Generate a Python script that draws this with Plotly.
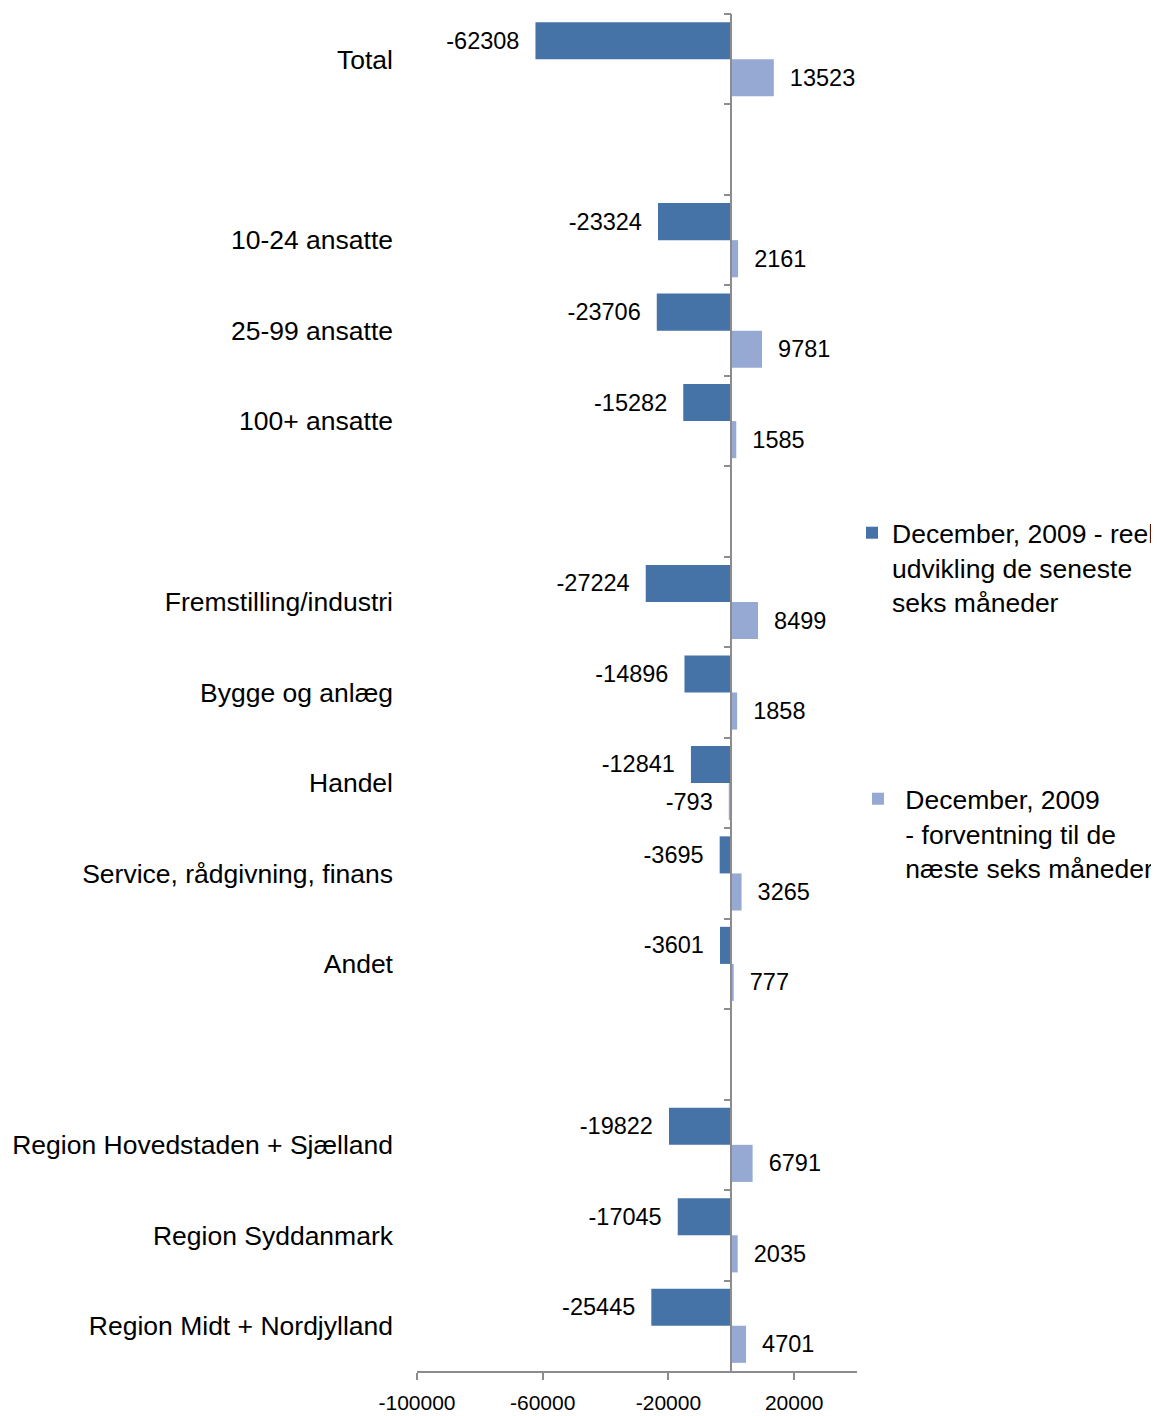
import plotly.graph_objects as go

categories = [
    "Total", " ", "10-24 ansatte", "25-99 ansatte", "100+ ansatte", "  ",
    "Fremstilling/industri", "Bygge og anlæg", "Handel",
    "Service, rådgivning, finans", "Andet", "   ",
    "Region Hovedstaden + Sjælland", "Region Syddanmark", "Region Midt + Nordjylland",
]
actual_values = [-62308, None, -23324, -23706, -15282, None,
                 -27224, -14896, -12841, -3695, -3601, None,
                 -19822, -17045, -25445]
expected_values = [13523, None, 2161, 9781, 1585, None,
                   8499, 1858, -793, 3265, 777, None,
                   6791, 2035, 4701]
series_names = [
    "December, 2009 - reel<br>udvikling de seneste<br>seks måneder",
    "\u00a0December, 2009<br>\u00a0- forventning til de<br>\u00a0næste seks måneder",
]
x_tickvals = [-100000, -60000, -20000, 20000]
x_range = [-100000, 40000]

DARK = "#4572A7"
LIGHT = "#95A9D3"
AXIS = "#8C8C8C"
FONT = "Liberation Sans, Arial, sans-serif"

# the page body has an 8px margin, so the figure is drawn 8px smaller
W, H = 1151, 1408
ML, MR, MT, MB = 409, 302, 6, 45


def labels(vals):
    out = []
    for v in vals:
        if v is None:
            out.append("")
        elif v < 0:
            out.append(f"{v}\u00a0\u00a0")
        else:
            out.append(f"\u00a0\u00a0{v}")
    return out


fig = go.Figure()
fig.add_trace(go.Bar(
    y=categories, x=actual_values, orientation="h", name=series_names[0],
    marker=dict(color=DARK, line=dict(width=0)),
    text=labels(actual_values), textposition="outside", constraintext="none",
    textfont=dict(family=FONT, size=23.5, color="black"),
    cliponaxis=False, legend="legend",
))
fig.add_trace(go.Bar(
    y=categories, x=expected_values, orientation="h", name=series_names[1],
    marker=dict(color=LIGHT, line=dict(width=0)),
    text=labels(expected_values), textposition="outside", constraintext="none",
    textfont=dict(family=FONT, size=23.5, color="black"),
    cliponaxis=False, legend="legend2",
))
# invisible helper trace that carries the category axis drawn at x = 0
fig.add_trace(go.Scatter(
    y=categories, x=[0] * len(categories), yaxis="y2", mode="markers",
    marker=dict(opacity=0, size=1), showlegend=False, hoverinfo="skip",
))

zero_pos = (0 - x_range[0]) / (x_range[1] - x_range[0])
cat_range = [len(categories) - 0.5, -0.5]

fig.update_layout(
    width=W, height=H,
    margin=dict(l=ML, r=MR, t=MT, b=MB, autoexpand=False),
    paper_bgcolor="white", plot_bgcolor="white",
    font=dict(family=FONT, color="black"),
    barmode="group", bargap=0.18, bargroupgap=0,
    xaxis=dict(
        range=x_range, tickmode="array", tickvals=x_tickvals,
        ticktext=[str(v) for v in x_tickvals],
        showgrid=False, zeroline=False, showline=True,
        linecolor=AXIS, linewidth=1.5, ticks="outside", ticklen=7,
        tickcolor=AXIS, tickwidth=1.5, tickfont=dict(size=21, color="black"),
        ticklabelstandoff=5,
    ),
    yaxis=dict(
        type="category", categoryorder="array", categoryarray=categories,
        range=cat_range, showgrid=False, zeroline=False, showline=False,
        ticks="", tickfont=dict(size=26.5, color="black"),
        ticklabelstandoff=23,
    ),
    yaxis2=dict(
        type="category", categoryorder="array", categoryarray=categories,
        range=cat_range, overlaying="y", anchor="free", position=zero_pos,
        side="left", showgrid=False, zeroline=False, showline=True,
        linecolor=AXIS, linewidth=1.5, ticks="outside", ticklen=7,
        tickcolor=AXIS, tickwidth=1.5, tickson="boundaries",
        showticklabels=False,
    ),
    legend=dict(
        xref="container", yref="container", x=844 / W, y=1 - 501 / H,
        xanchor="left", yanchor="top", valign="top",
        font=dict(size=26.5, color="black"), bgcolor="rgba(0,0,0,0)",
    ),
    legend2=dict(
        xref="container", yref="container", x=850 / W, y=1 - 767 / H,
        xanchor="left", yanchor="top", valign="top",
        font=dict(size=26.5, color="black"), bgcolor="rgba(0,0,0,0)",
    ),
    showlegend=True,
)

fig.write_html("out.html")
